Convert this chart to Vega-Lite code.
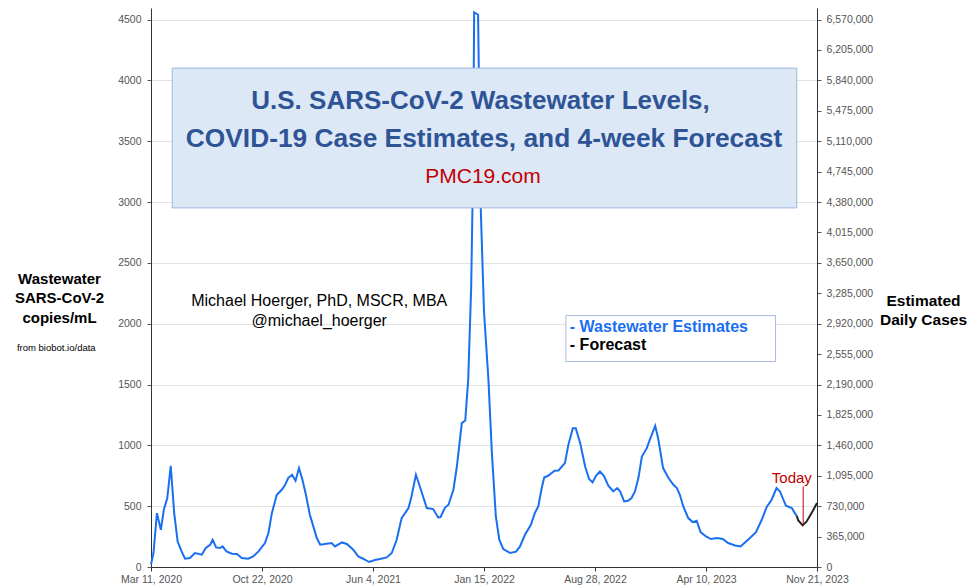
{
  "$schema": "https://vega.github.io/schema/vega-lite/v6.json",
  "width": 666,
  "height": 559,
  "autosize": {"type": "none"},
  "padding": {"left": 151, "top": 8, "right": 152, "bottom": 20},
  "background": "white",
  "config": {"font": "Arial, Liberation Sans, sans-serif", "view": {"stroke": null}},
  "datasets": {
    "wastewater": [
      {"date": "2020-03-11", "copies": 20},
      {"date": "2020-03-16", "copies": 115},
      {"date": "2020-03-23", "copies": 443},
      {"date": "2020-03-31", "copies": 306},
      {"date": "2020-04-06", "copies": 470},
      {"date": "2020-04-13", "copies": 567},
      {"date": "2020-04-20", "copies": 832},
      {"date": "2020-04-27", "copies": 443},
      {"date": "2020-05-04", "copies": 210},
      {"date": "2020-05-12", "copies": 128},
      {"date": "2020-05-19", "copies": 68},
      {"date": "2020-05-29", "copies": 74},
      {"date": "2020-06-08", "copies": 115},
      {"date": "2020-06-22", "copies": 101},
      {"date": "2020-06-30", "copies": 156},
      {"date": "2020-07-09", "copies": 183},
      {"date": "2020-07-14", "copies": 224},
      {"date": "2020-07-21", "copies": 161},
      {"date": "2020-07-29", "copies": 156},
      {"date": "2020-08-03", "copies": 169},
      {"date": "2020-08-11", "copies": 128},
      {"date": "2020-08-22", "copies": 109},
      {"date": "2020-09-01", "copies": 107},
      {"date": "2020-09-11", "copies": 74},
      {"date": "2020-09-24", "copies": 68},
      {"date": "2020-10-04", "copies": 87},
      {"date": "2020-10-15", "copies": 128},
      {"date": "2020-10-28", "copies": 197},
      {"date": "2020-11-04", "copies": 279},
      {"date": "2020-11-11", "copies": 443},
      {"date": "2020-11-21", "copies": 594},
      {"date": "2020-12-01", "copies": 635},
      {"date": "2020-12-08", "copies": 676},
      {"date": "2020-12-14", "copies": 731},
      {"date": "2020-12-22", "copies": 758},
      {"date": "2020-12-29", "copies": 709},
      {"date": "2021-01-05", "copies": 813},
      {"date": "2021-01-12", "copies": 717},
      {"date": "2021-01-19", "copies": 594},
      {"date": "2021-01-27", "copies": 430},
      {"date": "2021-02-03", "copies": 334},
      {"date": "2021-02-10", "copies": 238},
      {"date": "2021-02-17", "copies": 183},
      {"date": "2021-03-02", "copies": 191},
      {"date": "2021-03-12", "copies": 197},
      {"date": "2021-03-19", "copies": 169},
      {"date": "2021-04-02", "copies": 202},
      {"date": "2021-04-12", "copies": 189},
      {"date": "2021-04-25", "copies": 142},
      {"date": "2021-05-05", "copies": 87},
      {"date": "2021-05-15", "copies": 68},
      {"date": "2021-05-27", "copies": 41},
      {"date": "2021-06-08", "copies": 57},
      {"date": "2021-06-18", "copies": 66},
      {"date": "2021-07-02", "copies": 79},
      {"date": "2021-07-12", "copies": 115},
      {"date": "2021-07-22", "copies": 224},
      {"date": "2021-08-01", "copies": 402},
      {"date": "2021-08-15", "copies": 485},
      {"date": "2021-08-21", "copies": 580},
      {"date": "2021-08-30", "copies": 758},
      {"date": "2021-09-07", "copies": 662},
      {"date": "2021-09-21", "copies": 485},
      {"date": "2021-10-04", "copies": 476},
      {"date": "2021-10-14", "copies": 407},
      {"date": "2021-10-19", "copies": 411},
      {"date": "2021-10-28", "copies": 489},
      {"date": "2021-11-04", "copies": 512},
      {"date": "2021-11-14", "copies": 635},
      {"date": "2021-11-21", "copies": 826},
      {"date": "2021-12-01", "copies": 1183},
      {"date": "2021-12-08", "copies": 1204},
      {"date": "2021-12-11", "copies": 1374},
      {"date": "2021-12-14", "copies": 1538},
      {"date": "2021-12-20", "copies": 2300},
      {"date": "2021-12-24", "copies": 3300},
      {"date": "2021-12-26", "copies": 4560},
      {"date": "2022-01-03", "copies": 4540},
      {"date": "2022-01-08", "copies": 3000},
      {"date": "2022-01-15", "copies": 2100},
      {"date": "2022-01-24", "copies": 1538},
      {"date": "2022-01-31", "copies": 936},
      {"date": "2022-02-08", "copies": 415},
      {"date": "2022-02-15", "copies": 224},
      {"date": "2022-02-23", "copies": 148},
      {"date": "2022-03-09", "copies": 115},
      {"date": "2022-03-21", "copies": 126},
      {"date": "2022-03-29", "copies": 169},
      {"date": "2022-04-08", "copies": 265},
      {"date": "2022-04-20", "copies": 347},
      {"date": "2022-04-28", "copies": 443},
      {"date": "2022-05-05", "copies": 498},
      {"date": "2022-05-12", "copies": 649},
      {"date": "2022-05-17", "copies": 736},
      {"date": "2022-05-25", "copies": 750},
      {"date": "2022-06-07", "copies": 791},
      {"date": "2022-06-15", "copies": 793},
      {"date": "2022-06-28", "copies": 854},
      {"date": "2022-07-05", "copies": 1004},
      {"date": "2022-07-14", "copies": 1141},
      {"date": "2022-07-20", "copies": 1141},
      {"date": "2022-07-29", "copies": 1018},
      {"date": "2022-08-08", "copies": 826},
      {"date": "2022-08-16", "copies": 723},
      {"date": "2022-08-23", "copies": 695},
      {"date": "2022-08-30", "copies": 750},
      {"date": "2022-09-07", "copies": 785},
      {"date": "2022-09-15", "copies": 750},
      {"date": "2022-09-24", "copies": 668},
      {"date": "2022-10-04", "copies": 621},
      {"date": "2022-10-12", "copies": 649},
      {"date": "2022-10-18", "copies": 621},
      {"date": "2022-10-26", "copies": 539},
      {"date": "2022-11-03", "copies": 544},
      {"date": "2022-11-10", "copies": 567},
      {"date": "2022-11-17", "copies": 621},
      {"date": "2022-11-24", "copies": 731},
      {"date": "2022-12-01", "copies": 908},
      {"date": "2022-12-11", "copies": 977},
      {"date": "2022-12-17", "copies": 1045},
      {"date": "2022-12-28", "copies": 1160},
      {"date": "2023-01-03", "copies": 1059},
      {"date": "2023-01-13", "copies": 813},
      {"date": "2023-01-24", "copies": 731},
      {"date": "2023-02-03", "copies": 676},
      {"date": "2023-02-10", "copies": 649},
      {"date": "2023-02-16", "copies": 594},
      {"date": "2023-02-23", "copies": 498},
      {"date": "2023-03-05", "copies": 402},
      {"date": "2023-03-14", "copies": 369},
      {"date": "2023-03-22", "copies": 380},
      {"date": "2023-03-30", "copies": 287},
      {"date": "2023-04-10", "copies": 251},
      {"date": "2023-04-20", "copies": 230},
      {"date": "2023-05-02", "copies": 238},
      {"date": "2023-05-14", "copies": 230},
      {"date": "2023-05-25", "copies": 197},
      {"date": "2023-06-08", "copies": 177},
      {"date": "2023-06-19", "copies": 169},
      {"date": "2023-06-28", "copies": 202},
      {"date": "2023-07-08", "copies": 238},
      {"date": "2023-07-20", "copies": 284},
      {"date": "2023-08-01", "copies": 388},
      {"date": "2023-08-11", "copies": 493},
      {"date": "2023-08-21", "copies": 553},
      {"date": "2023-08-31", "copies": 649},
      {"date": "2023-09-07", "copies": 621},
      {"date": "2023-09-19", "copies": 503},
      {"date": "2023-10-01", "copies": 485},
      {"date": "2023-10-07", "copies": 443},
      {"date": "2023-10-11", "copies": 420}
    ],
    "forecast": [
      {"date": "2023-10-11", "copies": 420},
      {"date": "2023-10-14", "copies": 383},
      {"date": "2023-10-23", "copies": 342},
      {"date": "2023-10-31", "copies": 374},
      {"date": "2023-11-10", "copies": 443},
      {"date": "2023-11-21", "copies": 526}
    ]
  },
  "data": {"values": [{}]},
  "layer": [
    {
      "layer": [
        {
          "data": {"name": "wastewater"},
          "mark": {"type": "line", "color": "#1a6ff0", "strokeWidth": 2},
          "encoding": {
            "x": {
              "field": "date", "type": "temporal",
              "scale": {"type": "utc", "domain": [{"year": 2020, "month": 3, "date": 11, "utc": true}, {"year": 2023, "month": 11, "date": 21, "utc": true}]},
              "axis": {
                "values": [
                  {"year": 2020, "month": 3, "date": 11, "utc": true},
                  {"year": 2020, "month": 10, "date": 22, "utc": true},
                  {"year": 2021, "month": 6, "date": 4, "utc": true},
                  {"year": 2022, "month": 1, "date": 15, "utc": true},
                  {"year": 2022, "month": 8, "date": 28, "utc": true},
                  {"year": 2023, "month": 4, "date": 10, "utc": true},
                  {"year": 2023, "month": 11, "date": 21, "utc": true}
                ],
                "format": "%b %-d, %Y",
                "grid": false, "title": null,
                "domainColor": "#333", "tickColor": "#333", "tickSize": 4,
                "labelColor": "#555", "labelFontSize": 10.5, "labelPadding": 3,
                "labelOverlap": false, "labelFlush": false
              }
            },
            "y": {
              "field": "copies", "type": "quantitative",
              "scale": {"domain": [0, 4595], "nice": false, "zero": true},
              "axis": {
                "values": [0, 250, 500, 750, 1000, 1250, 1500, 1750, 2000, 2250, 2500, 2750, 3000, 3250, 3500, 3750, 4000, 4250, 4500],
                "format": "d", "grid": true, "gridColor": "#e2e2e2",
                "domainColor": "#333", "tickColor": "#555", "tickSize": 4,
                "labelColor": "#555", "labelFontSize": 10.5, "labelPadding": 6,
                "title": ["Wastewater", "SARS-CoV-2", "copies/mL"],
                "titleAngle": 0, "titleFontSize": 15, "titleFontWeight": "bold", "titleColor": "#000",
                "titleX": -92, "titleY": 270, "titleAlign": "center", "titleBaseline": "middle", "titleLineHeight": 19.5
              }
            }
          }
        },
        {
          "data": {"name": "forecast"},
          "mark": {"type": "line", "color": "#222222", "strokeWidth": 2},
          "encoding": {
            "x": {"field": "date", "type": "temporal"},
            "y": {"field": "copies", "type": "quantitative"}
          }
        },
        {
          "mark": {"type": "rect", "fill": "#dde8f6", "stroke": "#9db6df", "strokeWidth": 1},
          "encoding": {
            "x": {"datum": {"year": 2020, "month": 4, "date": 23, "utc": true}},
            "x2": {"datum": {"year": 2023, "month": 10, "date": 11, "utc": true}},
            "y": {"datum": 4101},
            "y2": {"datum": 2952}
          }
        },
        {
          "mark": {"type": "text", "text": "U.S. SARS-CoV-2 Wastewater Levels,", "fontSize": 26, "fontWeight": "bold", "color": "#2f5496", "align": "center", "baseline": "middle"},
          "encoding": {"x": {"datum": {"year": 2022, "month": 1, "date": 8, "utc": true}}, "y": {"datum": 3834}}
        },
        {
          "mark": {"type": "text", "text": "COVID-19 Case Estimates, and 4-week Forecast", "fontSize": 26.3, "fontWeight": "bold", "color": "#2f5496", "align": "center", "baseline": "middle"},
          "encoding": {"x": {"datum": {"year": 2022, "month": 1, "date": 15, "utc": true}}, "y": {"datum": 3518}}
        },
        {
          "mark": {"type": "text", "text": "PMC19.com", "fontSize": 21, "color": "#c00000", "align": "center", "baseline": "middle"},
          "encoding": {"x": {"datum": {"year": 2022, "month": 1, "date": 13, "utc": true}}, "y": {"datum": 3202}}
        },
        {
          "mark": {"type": "rect", "fill": "white", "stroke": "#a9b9e0", "strokeWidth": 1},
          "encoding": {
            "x": {"datum": {"year": 2022, "month": 6, "date": 30, "utc": true}},
            "x2": {"datum": {"year": 2023, "month": 8, "date": 29, "utc": true}},
            "y": {"datum": 2067},
            "y2": {"datum": 1689}
          }
        },
        {
          "mark": {"type": "text", "text": "- Wastewater Estimates", "fontSize": 16, "fontWeight": "bold", "color": "#1a6ff0", "align": "left", "baseline": "middle"},
          "encoding": {"x": {"datum": {"year": 2022, "month": 7, "date": 8, "utc": true}}, "y": {"datum": 1970}}
        },
        {
          "mark": {"type": "text", "text": "- Forecast", "fontSize": 16, "fontWeight": "bold", "color": "#000000", "align": "left", "baseline": "middle"},
          "encoding": {"x": {"datum": {"year": 2022, "month": 7, "date": 8, "utc": true}}, "y": {"datum": 1828}}
        },
        {
          "mark": {"type": "rule", "color": "#c00000", "strokeWidth": 1},
          "encoding": {
            "x": {"datum": {"year": 2023, "month": 10, "date": 24, "utc": true}},
            "y": {"datum": 342},
            "y2": {"datum": 662}
          }
        },
        {
          "mark": {"type": "text", "text": "Today", "fontSize": 15, "color": "#c00000", "align": "center", "baseline": "alphabetic"},
          "encoding": {"x": {"datum": {"year": 2023, "month": 10, "date": 1, "utc": true}}, "y": {"datum": 692}}
        },
        {
          "mark": {"type": "text", "text": "Michael Hoerger, PhD, MSCR, MBA", "fontSize": 16, "color": "#000000", "align": "center", "baseline": "middle"},
          "encoding": {"x": {"datum": {"year": 2021, "month": 2, "date": 15, "utc": true}}, "y": {"datum": 2187}}
        },
        {
          "mark": {"type": "text", "text": "@michael_hoerger", "fontSize": 16, "color": "#000000", "align": "center", "baseline": "middle"},
          "encoding": {"x": {"datum": {"year": 2021, "month": 2, "date": 15, "utc": true}}, "y": {"datum": 2023}}
        },
        {
          "mark": {"type": "text", "text": "from biobot.io/data", "fontSize": 9.5, "color": "#000000", "align": "center", "baseline": "middle"},
          "encoding": {"x": {"datum": {"year": 2019, "month": 9, "date": 1, "utc": true}}, "y": {"datum": 1801}}
        }
      ]
    },
    {
      "mark": {"type": "rule", "opacity": 0},
      "encoding": {
        "y": {
          "datum": 0, "type": "quantitative",
          "scale": {"domain": [0, 6708700], "nice": false},
          "axis": {
            "orient": "right",
            "values": [0, 365000, 730000, 1095000, 1460000, 1825000, 2190000, 2555000, 2920000, 3285000, 3650000, 4015000, 4380000, 4745000, 5110000, 5475000, 5840000, 6205000, 6570000],
            "format": ",d", "grid": false,
            "domainColor": "#333", "tickColor": "#555", "tickSize": 4,
            "labelColor": "#555", "labelFontSize": 10.5, "labelPadding": 5,
            "title": ["Estimated", "Daily Cases"],
            "titleAngle": 0, "titleFontSize": 15.5, "titleFontWeight": "bold", "titleColor": "#000",
            "titleX": 106, "titleY": 292, "titleAlign": "center", "titleBaseline": "middle", "titleLineHeight": 19.5
          }
        }
      }
    }
  ],
  "resolve": {"scale": {"y": "independent"}}
}
